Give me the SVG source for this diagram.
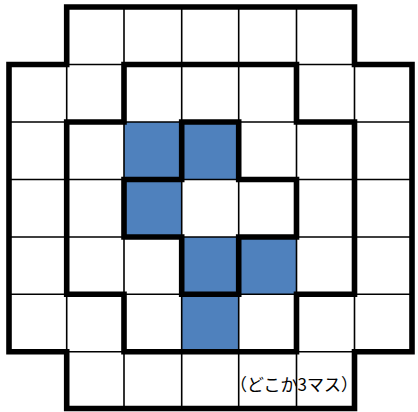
<svg xmlns="http://www.w3.org/2000/svg" width="418" height="412" viewBox="0 0 418 412">
<style>
.bg{fill:#ffffff}
.blue{fill:#4F81BD}
.thin{stroke:#000;stroke-width:1.6;fill:none}
.thick{stroke:#000;stroke-width:5.6;fill:none;stroke-linejoin:miter;stroke-linecap:square}
.lbl{font-family:"Noto Sans CJK JP","Noto Sans",sans-serif;font-size:17px;fill:#000}
</style>
<rect x="0" y="0" width="418" height="412" class="bg"/>
<g id="cells">
<rect class="blue" x="124" y="122" width="57.7" height="57.5"/>
<rect class="blue" x="181.7" y="122" width="57" height="57.5"/>
<rect class="blue" x="124" y="179.5" width="57.7" height="57.5"/>
<rect class="blue" x="181.7" y="237" width="57" height="57.3"/>
<rect class="blue" x="238.7" y="237" width="57.8" height="57.3"/>
<rect class="blue" x="181.7" y="294.3" width="57" height="57.4"/>
</g>
<g id="grid">
<path class="thin" d="M9,64.5H412 M9,122H412 M9,179.5H412 M9,237H412 M9,294.3H412 M9,351.7H412
M66.7,7V408.5 M124,7V408.5 M181.7,7V408.5 M238.7,7V408.5 M296.5,7V408.5 M354.5,7V408.5"/>
</g>
<g id="outer-boundary">
<path class="thick" d="M66.7,7H354.5V64.5H412V351.7H354.5V408.5H66.7V351.7H9V64.5H66.7Z"/>
</g>
<g id="ring-boundary">
<path class="thick" d="M66.7,122H124V64.5H296.5V122H354.5V294.3H296.5V351.7H124V294.3H66.7Z"/>
</g>
<g id="plus-boundary">
<path class="thick" d="M181.7,122H238.7V179.5H296.5V237H238.7V294.3H181.7V237H124V179.5H181.7Z"/>
</g>
<g id="label">
<text class="lbl" x="230" y="391">（どこか3マス）</text>
</g>
</svg>
